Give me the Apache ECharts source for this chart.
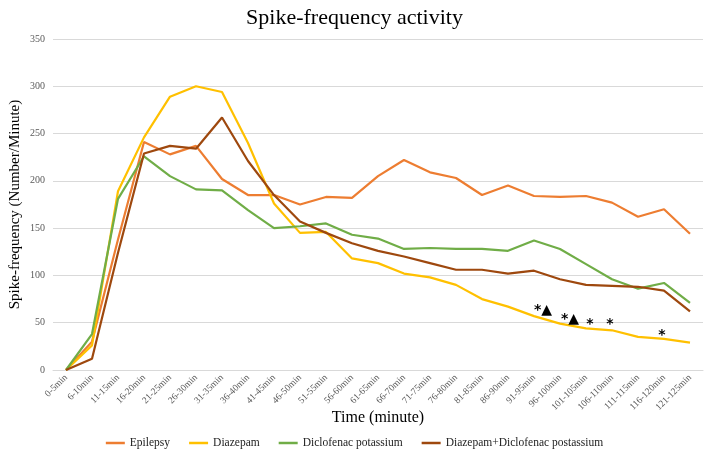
<!DOCTYPE html>
<html>
<head>
<meta charset="utf-8">
<script src="https://cdn.jsdelivr.net/npm/echarts@6/dist/echarts.min.js"></script>
<style>html,body{margin:0;padding:0;background:#fff;}#c{width:709px;height:450px;}</style>
</head>
<body>
<div id="c"></div>
<script>
var categories = ['0-5min','6-10min','11-15min','16-20min','21-25min','26-30min','31-35min','36-40min','41-45min','46-50min','51-55min','56-60min','61-65min','66-70min','71-75min','76-80min','81-85min','86-90min','91-95min','96-100min','101-105min','106-110min','111-115min','116-120min','121-125min'];
var epilepsy = [0,30,138,241,228,237,202,185,185,175,183,182,205,222,209,203,185,195,184,183,184,177,162,170,144];
var diazepam = [0,26,189,246,289,300,294,240,176,145,146,118,113,102,98,90,75,67,57,49,44,42,35,33,29];
var diclofenac = [0,38,181,226,205,191,190,169,150,152,155,143,139,128,129,128,128,126,137,128,112,96,86,92,71];
var combo = [0,12,124,229,237,234,267,221,185,157,145,134,126,120,113,106,106,102,105,96,90,89,88,84,62];
var yTicks = [0,50,100,150,200,250,300,350];
var annoCats = ['91-95min','96-100min','101-105min','106-110min','116-120min'];
var annoValues = [63,54,48,48,37];
var annoTexts = ['*\u25B2','*\u25B2','*','*','*'];
var annoOffsets = [[9,0],[10,0],[4,0],[-2,0],[-2,0]];

var serif = '"Liberation Serif", "Times New Roman", serif';
var chart = echarts.init(document.getElementById('c'));
function mkLine(name, data, color) {
  return { name: name, type: 'line', data: data, showSymbol: false, symbol: 'none',
    lineStyle: { width: 2.2, color: color }, itemStyle: { color: color }, animation: false };
}
var s2 = mkLine('Diazepam', diazepam, '#FFC000');
s2.markPoint = {
  symbol: 'circle', symbolSize: 1, itemStyle: { color: 'rgba(0,0,0,0)' },
  label: { show: true, position: 'inside', color: '#000', fontSize: 14, fontWeight: 'bold', fontFamily: '"DejaVu Sans", sans-serif' },
  data: annoCats.map(function (c, i) {
    return { coord: [c, annoValues[i]], label: { formatter: annoTexts[i], offset: annoOffsets[i] } };
  })
};
chart.setOption({
  animation: false,
  backgroundColor: '#fff',
  title: { text: 'Spike-frequency activity', left: 'center', top: 2,
    textStyle: { fontFamily: serif, fontSize: 22, fontWeight: 'normal', color: '#000' } },
  grid: { left: 53, right: 6, top: 39, bottom: 80, containLabel: false, outerBoundsMode: 'none' },
  legend: { top: 432, left: 'center', icon: 'rect', itemWidth: 19, itemHeight: 2.5, itemGap: 19,
    textStyle: { fontFamily: serif, fontSize: 11.5, color: '#222' },
    data: ['Epilepsy','Diazepam','Diclofenac potassium','Diazepam+Diclofenac postassium'] },
  xAxis: { type: 'category', data: categories, boundaryGap: true,
    name: 'Time (minute)', nameLocation: 'middle', nameGap: 40, nameMoveOverlap: false,
    nameTextStyle: { fontFamily: serif, fontSize: 16, color: '#000' },
    axisTick: { show: false },
    axisLine: { lineStyle: { color: '#d9d9d9' } },
    axisLabel: { rotate: 45, interval: 0, fontFamily: serif, fontSize: 9.5, color: '#595959', margin: 6 } },
  yAxis: { type: 'value', min: yTicks[0], max: yTicks[yTicks.length-1], interval: 50,
    name: 'Spike-frequency (Number/Minute)', nameLocation: 'middle', nameGap: 30, nameMoveOverlap: false,
    nameTextStyle: { fontFamily: serif, fontSize: 15, color: '#000' },
    axisLine: { show: false }, axisTick: { show: false },
    splitLine: { lineStyle: { color: '#d9d9d9' } },
    axisLabel: { fontFamily: serif, fontSize: 10, color: '#595959', margin: 8 } },
  series: [
    mkLine('Epilepsy', epilepsy, '#ED7D31'),
    s2,
    mkLine('Diclofenac potassium', diclofenac, '#70AD47'),
    mkLine('Diazepam+Diclofenac postassium', combo, '#9E480E')
  ]
});
</script>
</body>
</html>
